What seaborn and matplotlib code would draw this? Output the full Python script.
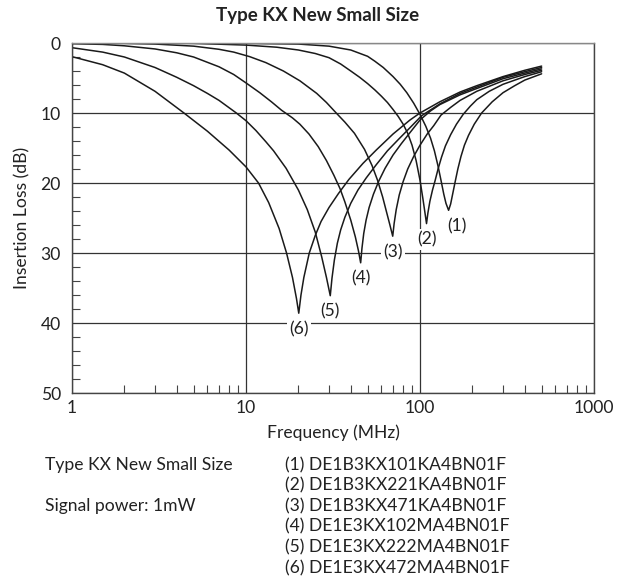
import numpy as np
import pandas as pd
import matplotlib
matplotlib.use("Agg")
import matplotlib.pyplot as plt
import seaborn as sns
from matplotlib.ticker import LogLocator, MultipleLocator, NullFormatter, FixedLocator

# ---------------- data ----------------
curve_labels = ["(1)", "(2)", "(3)", "(4)", "(5)", "(6)"]
part_numbers = ["DE1B3KX101KA4BN01F", "DE1B3KX221KA4BN01F", "DE1B3KX471KA4BN01F",
                "DE1E3KX102MA4BN01F", "DE1E3KX222MA4BN01F", "DE1E3KX472MA4BN01F"]

freq_1 = [1, 10, 20, 30, 40, 50, 55, 61.5, 70, 77, 84, 92, 100, 108, 115, 121, 127, 132, 137, 141, 146,
          150, 154, 159, 165, 172, 180, 190, 205, 226, 260, 300, 350, 400, 500]
loss_1 = [0.0, 0.05, 0.15, 0.45, 1.0, 1.9, 2.6, 3.5, 4.8, 5.9, 7.1, 8.6, 10.2, 11.9, 13.6, 15.4, 17.6, 19.6, 21.6, 22.9, 23.9,
          23.0, 21.6, 19.9, 18.0, 16.2, 14.6, 13.2, 11.6, 10.0, 8.4, 7.1, 6.1, 5.3, 4.4]

freq_2 = [1, 5, 10, 15, 20, 25, 30, 35, 40, 45, 50, 55, 60, 65, 70, 75, 80, 85, 90, 95, 100, 104, 107, 109,
          111, 114, 118, 122, 127, 133, 140, 150, 162, 177, 195, 212, 250, 300, 400, 500]
loss_2 = [0.0, 0.05, 0.3, 0.6, 1.0, 1.5, 2.1, 3.0, 4.0, 4.9, 5.8, 6.7, 7.6, 8.5, 9.5, 10.5, 11.6, 12.9, 14.6, 16.8, 19.6, 22.3, 24.4, 25.8,
          24.3, 22.6, 21.0, 19.7, 18.0, 16.3, 14.7, 13.1, 11.6, 10.2, 9.0, 8.1, 6.9, 5.9, 4.8, 4.1]

freq_3 = [1, 2, 3, 5, 7, 8.5, 10.5, 13, 16.4, 20.4, 25.5, 29, 33, 37, 42, 48, 53, 57, 61, 64, 67, 69.7,
          71, 73, 76, 80, 85, 92, 100, 110, 120, 132, 150, 170, 212, 300, 400, 500]
loss_3 = [0.0, 0.05, 0.15, 0.45, 0.9, 1.3, 1.95, 2.8, 4.0, 5.4, 7.2, 8.5, 10.0, 11.3, 12.9, 15.2, 17.5, 19.6, 22.0, 24.0, 25.9, 27.6,
          25.8, 23.8, 21.7, 19.8, 18.0, 16.2, 14.6, 13.0, 11.8, 10.3, 9.2, 8.2, 6.9, 5.4, 4.5, 3.9]

freq_4 = [1, 1.5, 2, 3, 4, 5, 7, 8.5, 10, 12, 14, 16, 18.5, 20.4, 23, 26, 29, 32, 34.7, 37, 40, 42.5, 44.3, 45.6,
          46.4, 47.5, 49, 51, 54, 58, 63, 70, 78, 87.6, 100, 115, 130, 170, 212, 300, 400, 500]
loss_4 = [0.1, 0.2, 0.4, 0.85, 1.4, 2.0, 3.4, 4.5, 5.7, 7.1, 8.4, 9.6, 10.7, 11.6, 13.0, 14.8, 16.8, 18.9, 20.8, 22.7, 25.3, 27.7, 29.7, 31.4,
          29.3, 27.2, 25.3, 23.5, 21.6, 19.7, 17.9, 16.0, 14.4, 12.8, 11.0, 9.7, 8.8, 7.4, 6.5, 5.1, 4.3, 3.7]

freq_5 = [1, 1.5, 2, 3, 4, 5, 6, 7, 8.8, 10, 11.4, 13, 14.4, 17, 20, 22.5, 25, 27.2, 29, 30.5,
          31.2, 32.2, 33.5, 35, 37, 40, 44, 49, 56, 65, 75, 87.6, 102, 130, 170, 212, 300, 400, 500]
loss_5 = [0.67, 1.3, 2.0, 3.5, 4.9, 6.1, 7.2, 8.2, 10.0, 11.1, 12.5, 14.1, 15.4, 17.9, 21.0, 23.8, 27.0, 30.5, 33.5, 36.1,
          33.6, 31.0, 28.6, 26.7, 24.9, 22.9, 21.0, 19.3, 17.4, 15.4, 13.8, 12.1, 10.4, 8.7, 7.2, 6.3, 4.9, 4.1, 3.5]

freq_6 = [1, 1.5, 2, 3, 4.4, 6, 8, 10, 11.8, 13.5, 15.5, 17.1, 18.5, 19.5, 20.1,
          20.7, 21.5, 23.1, 25, 27, 30, 34, 39, 47, 56, 70, 87.6, 100, 130, 170, 212, 300, 400, 500]
loss_6 = [1.95, 3.1, 4.3, 6.9, 10.0, 12.6, 15.3, 17.7, 20.0, 22.8, 26.5, 30.0, 33.5, 36.5, 38.6,
          36.0, 33.5, 30.0, 27.5, 25.5, 23.5, 21.5, 19.5, 17.2, 15.3, 13.0, 11.0, 10.0, 8.4, 7.0, 6.1, 4.8, 3.9, 3.3]

all_freqs = [freq_1, freq_2, freq_3, freq_4, freq_5, freq_6]
all_losses = [loss_1, loss_2, loss_3, loss_4, loss_5, loss_6]

x_ticks = [1, 10, 100, 1000]
x_tick_labels = ["1", "10", "100", "1000"]
y_ticks = [0, 10, 20, 30, 40, 50]

title = "Type KX New Small Size"
x_label = "Frequency (MHz)"
y_label = "Insertion Loss (dB)"
note_left = ["Type KX New Small Size", "", "Signal power: 1mW"]

# ---------------- build long-form table ----------------
rows = []
for lab, fs, ls in zip(curve_labels, all_freqs, all_losses):
    for f, l in zip(fs, ls):
        rows.append({"curve": lab, "freq": f, "loss": l})
df = pd.DataFrame(rows)

# ---------------- figure ----------------
sns.set_theme(style="white")
plt.rcParams["font.family"] = ["Lato", "DejaVu Sans"]
TXT = "#222222"
FS = 12.6

W, H = 630, 583
fig = plt.figure(figsize=(W / 100, H / 100), dpi=100)
ax = fig.add_axes([72 / W, 1 - 393 / H, (594 - 72) / W, (393 - 43) / H])

sns.lineplot(data=df, x="freq", y="loss", hue="curve", units="curve", estimator=None,
             palette=["#1a1a1a"] * 6, linewidth=1.1, legend=False, ax=ax, sort=False)

ax.set_xscale("log")
ax.set_xlim(1, 1000)
ax.set_ylim(50, 0)
ax.xaxis.set_major_locator(FixedLocator(x_ticks))
ax.set_xticklabels(x_tick_labels)
ax.xaxis.set_minor_locator(LogLocator(base=10, subs=np.arange(2, 10)))
ax.xaxis.set_minor_formatter(NullFormatter())
ax.set_yticks(y_ticks)
ax.yaxis.set_minor_locator(MultipleLocator(2))

ax.grid(True, which="major", color="#333333", linewidth=0.9)
ax.tick_params(which="major", length=0, labelsize=FS, labelcolor=TXT)
ax.tick_params(axis="y", which="major", pad=8)
ax.tick_params(axis="x", which="major", pad=5)
ax.tick_params(which="minor", direction="in", length=6, width=0.8, color="#444444")
ax.tick_params(axis="x", which="minor", bottom=True, top=False)
ax.tick_params(axis="y", which="minor", left=True, right=False)

for side, sp in ax.spines.items():
    sp.set_visible(True)
    sp.set_linewidth(1.0)
    sp.set_color("#444444")
ax.spines["top"].set_color("#888888")

ax.set_xlabel(x_label, fontsize=FS, color=TXT, labelpad=6)
ax.set_ylabel(y_label, fontsize=FS, color=TXT, labelpad=7)

# curve labels under each dip
for lab, fs, ls in zip(curve_labels, all_freqs, all_losses):
    i = int(np.argmax(ls))
    dx = 6 if lab == "(1)" else 0
    ax.annotate(lab, xy=(fs[i], ls[i]), xytext=(dx, -11.5), textcoords="offset points",
                ha="center", va="center", fontsize=FS, color=TXT,
                bbox=dict(boxstyle="square,pad=0.12", fc="white", ec="none"))

fig.text(318 / W, 1 - 15 / H, title, ha="center", va="center", fontsize=13.5,
         fontweight="bold", color=TXT)

# notes below the chart
row_y = [465 + 20.6 * k for k in range(6)]
for k, t in enumerate(note_left):
    if t:
        fig.text(45 / W, 1 - row_y[k] / H, t, ha="left", va="center", fontsize=FS, color=TXT)
for k, (lab, pn) in enumerate(zip(curve_labels, part_numbers)):
    fig.text(285 / W, 1 - row_y[k] / H, f"{lab} {pn}", ha="left", va="center",
             fontsize=FS, color=TXT)

fig.savefig("out.png", dpi=100, facecolor="white")
